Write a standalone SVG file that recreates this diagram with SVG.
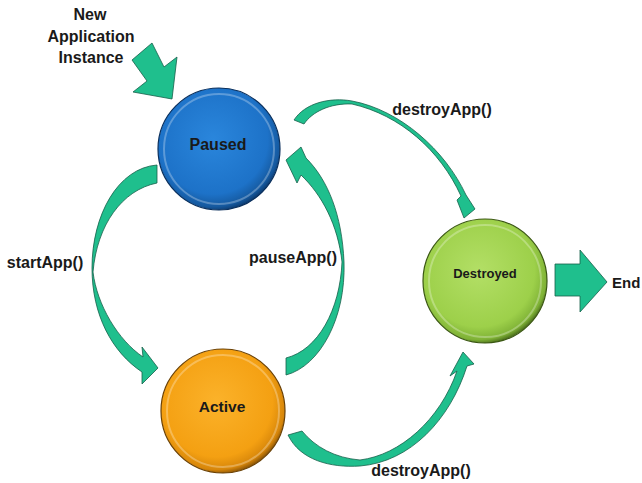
<svg xmlns="http://www.w3.org/2000/svg" width="642" height="483" viewBox="0 0 642 483">
<defs>
<radialGradient id="gBlue" cx="0.45" cy="0.42" r="0.6">
<stop offset="0" stop-color="#2a86dc"/><stop offset="0.75" stop-color="#1d72c8"/><stop offset="0.92" stop-color="#15599f"/><stop offset="1" stop-color="#0b3566"/>
</radialGradient>
<radialGradient id="gOrange" cx="0.45" cy="0.42" r="0.6">
<stop offset="0" stop-color="#fbb22a"/><stop offset="0.75" stop-color="#f4a012"/><stop offset="0.92" stop-color="#d7860a"/><stop offset="1" stop-color="#7a4a05"/>
</radialGradient>
<radialGradient id="gGreen" cx="0.45" cy="0.42" r="0.6">
<stop offset="0" stop-color="#b3df66"/><stop offset="0.75" stop-color="#9dd04a"/><stop offset="0.92" stop-color="#7fb236"/><stop offset="1" stop-color="#3f5f15"/>
</radialGradient>
</defs>
<style>
.t{font-family:"Liberation Sans",Arial,sans-serif;font-weight:bold;fill:#1a1a1a;text-anchor:middle}
.a{fill:#1fbf8d;stroke:#17604a;stroke-width:0.8;stroke-linejoin:miter}
.n{stroke-width:1.2}
.bevel{fill:none;stroke:#ffffff;stroke-opacity:0.28;stroke-width:2}
</style>
<rect width="642" height="483" fill="#ffffff"/>
<g id="connectors">
<path id="newInstance" class="a" d="M132,60 L152,43 L164,67 L177,57 L172,99 L133,92 L147,81 Z"/>
<path id="startApp" class="a" d="M157,165 C118,168 92,215 92,268 C92,315 112,352 142,372 L142,384 L158,368 L142,347 L143,357 C118,340 97,305 93,272 C97,225 122,190 157,183 Z"/>
<path id="pauseApp" class="a" d="M286,375 C320,366 346,318 344,262 C342,215 328,180 306,158 L301,147 L286,160 L297,183 L301,175 C322,195 338,225 342,262 C340,310 318,350 286,358 Z"/>
<path id="destroyTop" class="a" d="M294,120 C305,103 330,97 352,101 C400,110 445,150 466,195 L475,209 L464,218 L457,200 L461,196 C440,150 400,115 352,104 C330,103 312,112 304,124 Z"/>
<path id="destroyBottom" class="a" d="M288,435 C300,460 330,468 360,466 C410,462 450,420 467,366 L474,364 L463,352 L450,376 L457,371 C440,420 400,455 360,460 C335,458 315,447 302,431 Z"/>
<path id="toEnd" class="a" d="M555,264 L580,264 L580,250 L607,282 L580,312 L580,296 L555,296 Z"/>
</g>
<g id="label-new">
<text class="t" x="90" y="20" font-size="16">New</text>
<text class="t" x="91" y="42" font-size="16">Application</text>
<text class="t" x="91" y="63" font-size="16">Instance</text>
</g>
<g id="node-paused">
<circle cx="219" cy="149" r="61" fill="url(#gBlue)" stroke="#0a2f5c" class="n"/>
<circle cx="219" cy="149" r="55" class="bevel"/>
<text class="t" x="218" y="150" font-size="16">Paused</text>
</g>
<g id="node-active">
<circle cx="223" cy="411" r="62" fill="url(#gOrange)" stroke="#6a4004" class="n"/>
<circle cx="223" cy="411" r="56" class="bevel"/>
<text class="t" x="222" y="412" font-size="15.5">Active</text>
</g>
<g id="node-destroyed">
<circle cx="485" cy="281" r="62" fill="url(#gGreen)" stroke="#3a5712" class="n"/>
<circle cx="485" cy="281" r="56" class="bevel"/>
<text class="t" x="485" y="278" font-size="13">Destroyed</text>
</g>
<g id="labels">
<text class="t" x="442" y="115" font-size="16">destroyApp()</text>
<text class="t" x="45" y="268" font-size="16">startApp()</text>
<text class="t" x="293" y="263" font-size="16">pauseApp()</text>
<text class="t" x="421" y="476" font-size="16">destroyApp()</text>
<text class="t" x="612" y="288" font-size="15" style="text-anchor:start">End</text>
</g>
</svg>
